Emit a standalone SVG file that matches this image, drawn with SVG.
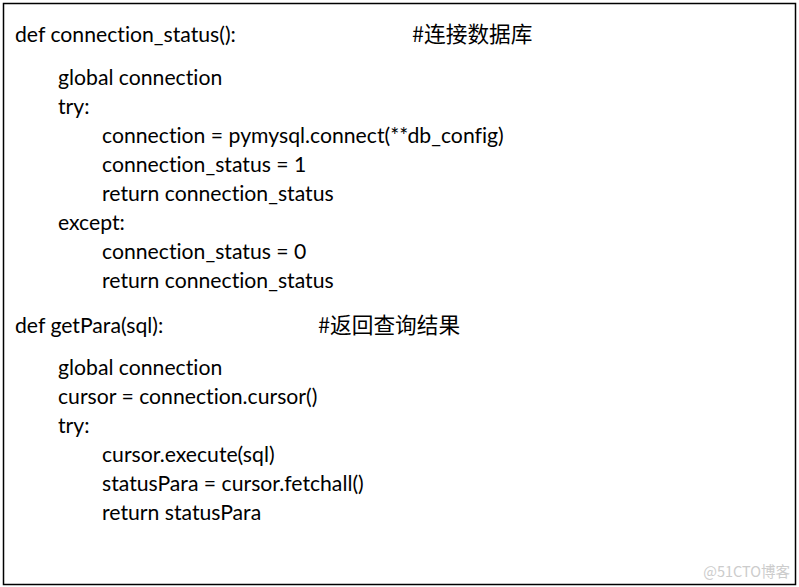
<svg xmlns="http://www.w3.org/2000/svg" width="799" height="587" viewBox="0 0 799 587">
<style>
.c{font-family:Lato,"Noto Sans","Noto Sans CJK SC",sans-serif;font-size:21.2px;fill:#000;font-variant-ligatures:none}
.z{font-family:"Noto Sans CJK SC",sans-serif;font-size:21.7px;fill:#000}
.w{font-family:"Noto Sans CJK SC",sans-serif;font-size:14.5px;fill:#cccccc}
</style>
<rect width="799" height="587" fill="#fff"/>
<rect id="box" x="3.5" y="3.5" width="792" height="581" fill="#fff" stroke="#000" stroke-width="1.5"/>
<g id="code">
<text class="c" x="15" y="42">def connection_status():</text>
<text class="z" x="412" y="42">#连接数据库</text>
<text class="c" x="58" y="85">global connection</text>
<text class="c" x="58" y="114">try:</text>
<text class="c" x="102" y="143">connection = pymysql.connect(**db_config)</text>
<text class="c" x="102" y="172">connection_status = 1</text>
<text class="c" x="102" y="201">return connection_status</text>
<text class="c" x="58" y="230">except:</text>
<text class="c" x="102" y="259">connection_status = 0</text>
<text class="c" x="102" y="288">return connection_status</text>
<text class="c" x="15" y="333">def getPara(sql):</text>
<text class="z" x="318" y="333">#返回查询结果</text>
<text class="c" x="58" y="375">global connection</text>
<text class="c" x="58" y="404">cursor = connection.cursor()</text>
<text class="c" x="58" y="433">try:</text>
<text class="c" x="102" y="462">cursor.execute(sql)</text>
<text class="c" x="102" y="491">statusPara = cursor.fetchall()</text>
<text class="c" x="102" y="520">return statusPara</text>
</g>
<text class="w" x="790" y="577" text-anchor="end">@51CTO博客</text>
</svg>
